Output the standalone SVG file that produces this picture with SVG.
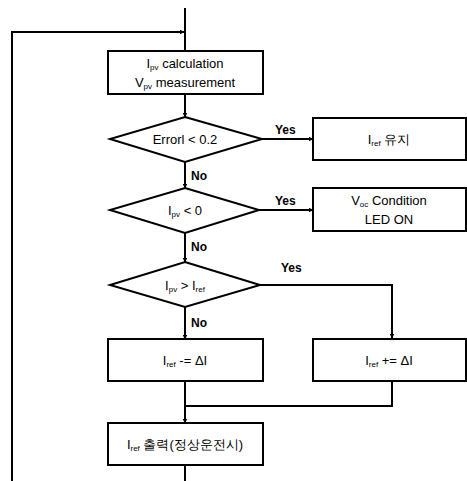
<svg xmlns="http://www.w3.org/2000/svg" width="467" height="481" viewBox="0 0 467 481">
<style>
.box{fill:#fff;stroke:#000;stroke-width:2}
.ln{fill:none;stroke:#000;stroke-width:2}
text{font-family:"Liberation Sans",Arial,sans-serif;font-size:13px;fill:#000;text-anchor:middle}
.lb{text-anchor:start;font-weight:bold;font-size:12px}
.s{font-size:8px}
</style>
<defs>
<marker id="ah" viewBox="0 0 10 10" refX="9" refY="5" markerWidth="5" markerHeight="5" orient="auto" markerUnits="userSpaceOnUse">
<path d="M0,0 L10,5 L0,10 z" fill="#000"/>
</marker>
</defs>
<rect width="467" height="481" fill="#fff"/>
<g id="connectors">
<path class="ln" d="M185,8 V51"/>
<path class="ln" d="M12,481 V32 H184" marker-end="url(#ah)"/>
<path class="ln" d="M185,94 V117" marker-end="url(#ah)"/>
<path class="ln" d="M185,162 V188" marker-end="url(#ah)"/>
<path class="ln" d="M262,139 L313,139" marker-end="url(#ah)"/>
<path class="ln" d="M185,233 V262" marker-end="url(#ah)"/>
<path class="ln" d="M259,210 L313,210" marker-end="url(#ah)"/>
<path class="ln" d="M185,307 V339" marker-end="url(#ah)"/>
<path class="ln" d="M260,285 H392 V338" marker-end="url(#ah)"/>
<path class="ln" d="M185,381 V423" marker-end="url(#ah)"/>
<path class="ln" d="M392,381 V406 H185"/>
<path class="ln" d="M185,465 V481"/>
<text class="lb" x="275" y="134">Yes</text>
<text class="lb" x="191" y="180">No</text>
<text class="lb" x="275" y="205">Yes</text>
<text class="lb" x="191" y="251">No</text>
<text class="lb" x="281" y="272">Yes</text>
<text class="lb" x="191" y="327">No</text>
</g>
<g id="n1">
<rect class="box" x="108" y="51" width="155" height="43"/>
<text x="185" y="68">I<tspan class="s" dy="2">pv</tspan><tspan dy="-2"> calculation</tspan></text>
<text x="185" y="87">V<tspan class="s" dy="2">pv</tspan><tspan dy="-2"> measurement</tspan></text>
</g>
<g id="d1">
<polygon class="box" points="185,117 262,139 185,162 110,139"/>
<text x="185" y="144">Errorl &lt; 0.2</text>
</g>
<g id="n2">
<rect class="box" x="313" y="118" width="153" height="42"/>
<text x="389" y="144" font-family="'Liberation Sans','Noto Sans CJK KR',sans-serif">I<tspan class="s" dy="2">ref</tspan><tspan dy="-2"> 유지</tspan></text>
</g>
<g id="d2">
<polygon class="box" points="185,188 259,210 185,233 110,210"/>
<text x="185" y="215">I<tspan class="s" dy="2">pv</tspan><tspan dy="-2"> &lt; 0</tspan></text>
</g>
<g id="n3">
<rect class="box" x="313" y="188" width="153" height="43"/>
<text x="389" y="205">V<tspan class="s" dy="2">oc</tspan><tspan dy="-2"> Condition</tspan></text>
<text x="389" y="224">LED ON</text>
</g>
<g id="d3">
<polygon class="box" points="185,262 260,285 185,307 110,285"/>
<text x="185" y="290">I<tspan class="s" dy="2">pv</tspan><tspan dy="-2"> &gt; I</tspan><tspan class="s" dy="2">ref</tspan></text>
</g>
<g id="n4">
<rect class="box" x="108" y="339" width="155" height="42"/>
<text x="185" y="365">I<tspan class="s" dy="2">ref</tspan><tspan dy="-2"> -= ΔI</tspan></text>
</g>
<g id="n5">
<rect class="box" x="313" y="339" width="153" height="42"/>
<text x="389" y="365">I<tspan class="s" dy="2">ref</tspan><tspan dy="-2"> += ΔI</tspan></text>
</g>
<g id="n6">
<rect class="box" x="108" y="423" width="155" height="42"/>
<text x="185" y="449" font-family="'Liberation Sans','Noto Sans CJK KR',sans-serif">I<tspan class="s" dy="2">ref</tspan><tspan dy="-2"> 출력(정상운전시)</tspan></text>
</g>
</svg>
